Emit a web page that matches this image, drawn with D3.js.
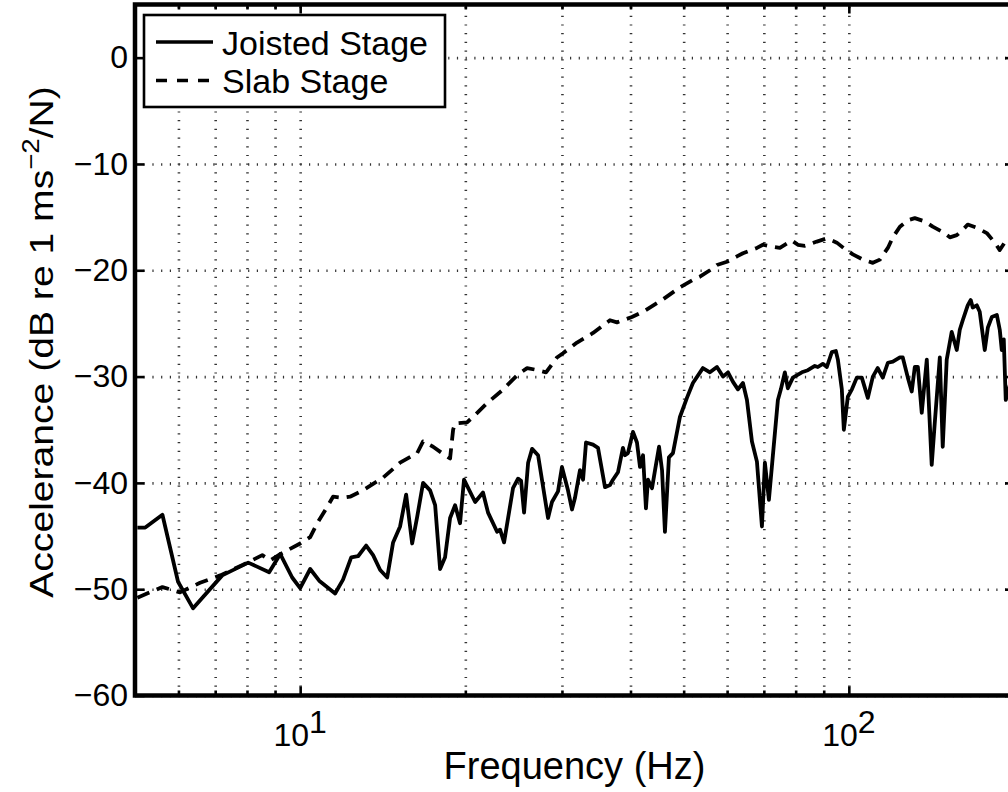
<!DOCTYPE html>
<html>
<head>
<meta charset="UTF-8">
<title></title>
<script src="https://cdn.jsdelivr.net/npm/d3@7/dist/d3.min.js"></script>
<style>
  body { margin: 0; background: #fff; }
  text { font-family: "Liberation Sans", Arial, Helvetica, sans-serif; fill: #000; }
</style>
</head>
<body>
<div id="chart"></div>
<script>
// data
var seriesNames = ["Joisted Stage", "Slab Stage"];

var joistFreq = [5.05,5.22,5.61,5.99,6.38,7.21,8.04,8.78,9.20,9.67,10.0,
  10.43,10.83,11.58,11.97,12.39,12.75,13.19,13.58,13.99,14.41,
  14.77,15.21,15.60,16.0,16.34,16.75,17.25,17.62,17.99,18.37,
  18.76,19.16,19.56,19.89,20.84,21.54,22.0,22.85,23.14,23.53,
  24.43,24.95,25.27,25.59,26.03,26.47,27.14,28.30,28.77,29.51,
  30.0,30.77,31.29,31.69,32.36,32.78,33.19,34.18,34.90,35.94,
  36.70,37.16,37.95,38.75,39.08,39.57,40.42,41.10,41.63,42.16,
  42.68,43.05,43.78,44.34,45.09,45.66,46.22,47.0,47.80,49.22,
  50.69,51.98,54.20,55.82,57.49,58.97,60.22,61.50,62.79,64.12,
  65.21,66.59,68.0,69.44,70.31,71.50,72.71,74.25,75.18,76.45,
  77.42,79.07,82.11,84.20,86.70,87.80,89.66,91.19,93.11,94.69,
  95.50,97.10,97.93,99.58,101.3,103.4,105.6,108.3,110.6,112.9,
  115.3,117.8,120.3,123.9,125.4,128.1,130.2,131.9,133.6,135.8,
  138.7,141.6,143.4,146.5,148.3,150.8,154.0,157.3,159.3,161.3,
  164.7,166.8,168.2,171.1,173.2,176.9,179.2,182.2,186.1,188.4,
  190.0,191.6,193.2,196.5];
var joistDb = [-44.2,-44.2,-43.0,-49.3,-51.8,-48.7,-47.5,-48.4,-46.7,-48.9,-49.9,
  -48.1,-49.2,-50.4,-49.1,-47.0,-46.9,-45.9,-46.8,-48.2,-48.9,
  -45.6,-44.1,-41.1,-45.7,-43.2,-40.0,-40.7,-42.1,-48.1,-47.0,
  -43.3,-42.1,-43.8,-39.7,-41.8,-40.9,-42.8,-44.6,-44.4,-45.6,
  -40.5,-39.6,-39.8,-42.8,-38.1,-36.8,-37.4,-43.3,-41.8,-40.8,
  -38.5,-40.7,-42.5,-41.4,-38.8,-39.7,-36.2,-36.4,-36.7,-40.4,
  -40.2,-39.7,-39.0,-36.7,-37.4,-37.2,-35.2,-36.2,-38.5,-37.4,
  -42.4,-39.7,-40.5,-38.8,-36.6,-38.8,-44.6,-37.6,-37.2,-33.8,
  -32.0,-30.6,-29.2,-29.6,-29.1,-30.0,-29.6,-30.5,-31.2,-30.6,
  -32.2,-36.1,-38.0,-44.1,-38.1,-41.6,-37.4,-32.2,-31.2,-29.6,
  -31.1,-30.1,-29.6,-29.4,-29.0,-29.1,-28.8,-29.1,-27.7,-27.6,
  -28.4,-31.2,-35.0,-31.9,-31.2,-30.1,-30.1,-32.0,-30.0,-29.2,
  -30.1,-28.7,-28.6,-28.2,-28.2,-30.1,-31.4,-29.1,-29.1,-33.4,
  -28.4,-38.3,-34.4,-28.2,-36.6,-28.4,-25.8,-27.5,-25.6,-24.7,
  -23.3,-22.8,-23.5,-23.3,-23.9,-27.5,-25.4,-24.4,-24.2,-25.6,
  -27.5,-26.5,-32.2,-30.8];

var slabFreq = [5.05,5.61,6.04,6.57,7.15,7.87,8.53,8.82,9.20,10.0,
  10.43,10.74,11.25,11.48,11.97,12.33,13.02,14.17,15.21,16.34,
  16.75,17.47,18.14,18.76,19.0,19.16,20.15,20.84,21.91,23.33,
  24.95,25.92,27.14,28.06,29.38,30.13,31.96,34.18,35.19,36.70,
  37.79,40.24,42.16,45.66,49.22,51.98,53.53,55.82,57.49,59.97,
  62.52,64.12,68.0,69.73,72.71,74.87,78.74,80.74,83.16,87.44,
  91.19,95.08,98.34,101.7,106.1,110.6,113.9,117.8,120.3,123.9,
  128.1,131.9,137.5,142.2,148.3,152.8,157.3,161.3,164.7,171.1,
  178.4,184.5,188.4,194.0];
var slabDb = [-50.8,-49.8,-50.3,-49.4,-48.7,-47.7,-46.8,-47.3,-46.7,-45.7,
  -45.1,-43.8,-42.1,-41.3,-41.4,-41.3,-40.7,-39.5,-38.1,-37.2,
  -36.1,-36.6,-37.2,-37.7,-35.0,-34.4,-34.3,-33.6,-32.5,-31.3,
  -29.8,-29.2,-29.4,-29.6,-28.2,-27.8,-26.8,-25.9,-25.4,-24.7,
  -24.9,-24.4,-23.9,-22.8,-21.6,-20.9,-20.6,-20.0,-19.5,-19.2,
  -18.7,-18.4,-17.9,-17.6,-17.8,-17.9,-17.2,-17.6,-17.7,-17.3,
  -17.0,-17.4,-18.0,-18.5,-19.0,-19.3,-19.0,-17.9,-16.9,-15.9,
  -15.3,-15.1,-15.4,-15.9,-16.4,-16.9,-16.7,-16.2,-15.7,-16.0,
  -16.5,-17.4,-18.1,-17.1];

var xDomain = [5, 200];
var yDomain = [-60, 5];
var yTicks = [-60, -50, -40, -30, -20, -10, 0];
var xMajorTicks = [10, 100];
var xMinorTicks = [6, 7, 8, 9, 20, 30, 40, 50, 60, 70, 80, 90, 200];
var xLabel = "Frequency (Hz)";

var width = 1008, height = 792;
var plot = { left: 135, right: 1014, top: 4.5, bottom: 695.5 };

var svg = d3.select("#chart").append("svg")
  .attr("width", width)
  .attr("height", height)
  .style("display", "block");

svg.append("rect").attr("width", width).attr("height", height).attr("fill", "#fff");

var x = d3.scaleLog().domain(xDomain).range([plot.left, plot.right]);
var y = d3.scaleLinear().domain(yDomain).range([plot.bottom, plot.top]);

svg.append("clipPath").attr("id", "clip")
  .append("rect")
  .attr("x", plot.left).attr("y", plot.top)
  .attr("width", plot.right - plot.left).attr("height", plot.bottom - plot.top);

// grid (dotted)
var gridX = svg.append("g")
  .attr("transform", "translate(0," + plot.bottom + ")")
  .call(d3.axisBottom(x).tickValues(xMajorTicks.concat(xMinorTicks))
    .tickSize(-(plot.bottom - plot.top)).tickFormat(""));
var gridY = svg.append("g")
  .attr("transform", "translate(" + plot.left + ",0)")
  .call(d3.axisLeft(y).tickValues(yTicks).tickSize(-(plot.right - plot.left)).tickFormat(""));
[gridX, gridY].forEach(function(g) {
  g.select(".domain").remove();
  g.selectAll("line")
    .attr("stroke", "#333")
    .attr("stroke-width", 2.6)
    .attr("stroke-dasharray", "1.2,7.5");
});

// curves
var line = d3.line()
  .x(function(d) { return x(d[0]); })
  .y(function(d) { return y(d[1]); });

var curves = svg.append("g").attr("clip-path", "url(#clip)");
curves.append("path")
  .datum(d3.zip(slabFreq, slabDb))
  .attr("fill", "none")
  .attr("stroke", "#000")
  .attr("stroke-width", 3.8)
  .attr("stroke-dasharray", "13,8")
  .attr("stroke-linejoin", "round")
  .attr("d", line);
curves.append("path")
  .datum(d3.zip(joistFreq, joistDb))
  .attr("fill", "none")
  .attr("stroke", "#000")
  .attr("stroke-width", 3.8)
  .attr("stroke-linejoin", "round")
  .attr("d", line);

// ticks on all four sides, pointing inward
function styleTicks(g) {
  g.select(".domain").remove();
  g.selectAll("line").attr("stroke", "#000").attr("stroke-width", 2.6);
}
svg.append("g").attr("transform", "translate(0," + plot.bottom + ")")
  .call(d3.axisBottom(x).tickValues(xMajorTicks).tickSize(-9).tickFormat("")).call(styleTicks);
svg.append("g").attr("transform", "translate(0," + plot.bottom + ")")
  .call(d3.axisBottom(x).tickValues(xMinorTicks).tickSize(-5).tickFormat("")).call(styleTicks);
svg.append("g").attr("transform", "translate(0," + plot.top + ")")
  .call(d3.axisTop(x).tickValues(xMajorTicks).tickSize(-9).tickFormat("")).call(styleTicks);
svg.append("g").attr("transform", "translate(0," + plot.top + ")")
  .call(d3.axisTop(x).tickValues(xMinorTicks).tickSize(-5).tickFormat("")).call(styleTicks);
svg.append("g").attr("transform", "translate(" + plot.right + ",0)")
  .call(d3.axisRight(y).tickValues(yTicks).tickSize(-9).tickFormat("")).call(styleTicks);

var yAxis = svg.append("g").attr("transform", "translate(" + plot.left + ",0)")
  .call(d3.axisLeft(y).tickValues(yTicks).tickSize(-9).tickPadding(7)
    .tickFormat(function(d) { return d < 0 ? "\u2212" + Math.abs(d) : d; }));
yAxis.call(styleTicks);
yAxis.selectAll("text")
  .attr("font-size", 32)
  .attr("font-family", "'Liberation Sans', Arial, sans-serif")
  .attr("fill", "#000");

// x tick labels as 10^n
var xt = svg.append("g").selectAll("text").data(xMajorTicks).enter().append("text")
  .attr("x", function(d) { return x(d); })
  .attr("y", 746)
  .attr("text-anchor", "middle")
  .attr("font-size", 32);
xt.append("tspan").text("10");
xt.append("tspan").attr("dy", -13).text(function(d) { return Math.round(Math.log10(d)); });

// axes box
svg.append("rect")
  .attr("x", plot.left).attr("y", plot.top)
  .attr("width", plot.right - plot.left).attr("height", plot.bottom - plot.top)
  .attr("fill", "none").attr("stroke", "#000").attr("stroke-width", 4.5);

// axis labels
svg.append("text")
  .attr("x", (plot.left + plot.right) / 2)
  .attr("y", 779)
  .attr("text-anchor", "middle")
  .attr("font-size", 38)
  .text(xLabel);

var yl = svg.append("g")
  .attr("transform", "translate(53,342) rotate(-90) scale(1.15,1)")
  .append("text")
  .attr("text-anchor", "middle")
  .attr("font-size", 34);
yl.append("tspan").text("Accelerance (dB re 1 ms");
yl.append("tspan").attr("dy", -14).attr("font-size", 24).text("\u22122");
yl.append("tspan").attr("dy", 14).text("/N)");

// legend
var legend = svg.append("g");
legend.append("rect")
  .attr("x", 144).attr("y", 15).attr("width", 301).attr("height", 92)
  .attr("fill", "#fff").attr("stroke", "#000").attr("stroke-width", 2.6);
var legendRows = legend.selectAll("g.row").data(seriesNames).enter().append("g")
  .attr("class", "row")
  .attr("transform", function(d, i) { return "translate(0," + (42 + i * 38.5) + ")"; });
legendRows.append("line")
  .attr("x1", 156).attr("x2", 213)
  .attr("stroke", "#000").attr("stroke-width", 3.6)
  .attr("stroke-dasharray", function(d, i) { return i === 1 ? "11,10" : null; });
legendRows.append("text")
  .attr("x", 222).attr("y", 12.5)
  .attr("font-size", 34)
  .text(function(d) { return d; });
</script>
</body>
</html>
